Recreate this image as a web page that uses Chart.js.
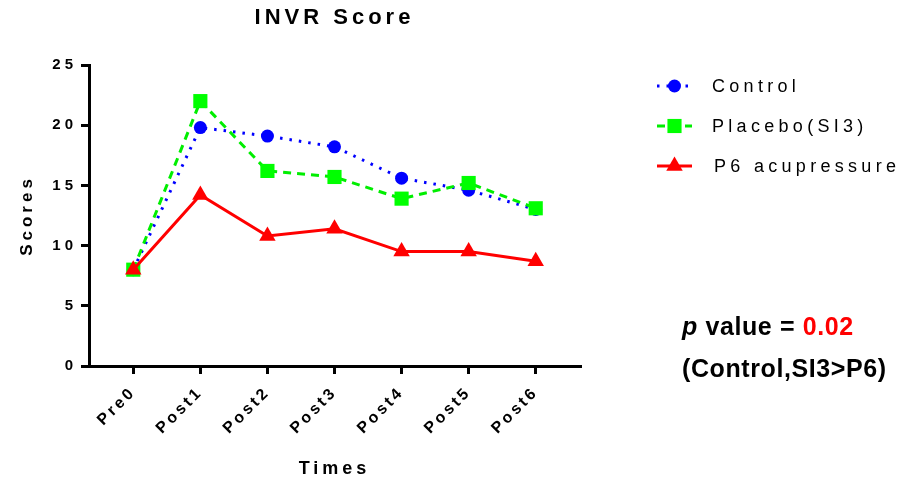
<!DOCTYPE html>
<html>
<head>
<meta charset="utf-8">
<script src="https://cdn.jsdelivr.net/npm/chart.js@4/dist/chart.umd.min.js"></script>
<style>
html,body{margin:0;padding:0;background:#fff;}
#wrap{width:905px;height:483px;}
</style>
</head>
<body>
<div id="wrap"><canvas id="c" width="905" height="483"></canvas></div>
<script>
const categories = ['Pre0', 'Post1', 'Post2', 'Post3', 'Post4', 'Post5', 'Post6'];
const controlValues = [8.0, 19.8, 19.1, 18.2, 15.6, 14.6, 13.0];
const placeboValues = [8.0, 22.0, 16.2, 15.7, 13.9, 15.2, 13.1];
const p6Values = [8.0, 14.2, 10.8, 11.4, 9.5, 9.5, 8.7];
const seriesNames = ['Control', 'Placebo(SI3)', 'P6 acupressure'];
const yTicks = [0, 5, 10, 15, 20, 25];
const titleText = 'INVR Score';
const xTitle = 'Times';
const yTitle = 'Scores';
const pLabel = 'p';
const pRest = ' value = ';
const pValue = '0.02';
const pNote = '(Control,SI3>P6)';

const FONT = "'Liberation Sans', Arial, Helvetica, sans-serif";
Chart.defaults.color = '#000';
Chart.defaults.font.family = FONT;

const toPts = arr => arr.map((v, i) => ({x: i, y: v}));

const spacingPlugin = {
  id: 'spacing',
  beforeDraw(chart) {
    const wrap = (obj, name, sp) => {
      if (!obj || obj['__w_' + name]) return;
      const orig = obj[name];
      obj[name] = function (...args) {
        const ctx = chart.ctx;
        ctx.save();
        ctx.letterSpacing = sp;
        const r = orig.apply(this, args);
        ctx.restore();
        return r;
      };
      obj['__w_' + name] = true;
    };
    wrap(chart.scales.x, 'drawLabels', '3px');
    wrap(chart.scales.x, 'drawTitle', '4px');
    wrap(chart.scales.y, 'drawLabels', '4px');
    wrap(chart.scales.y, 'drawTitle', '4px');
    wrap(chart.titleBlock, 'draw', '4px');
  }
};

function drawMarker(ctx, style, r, x, y, color) {
  ctx.save();
  ctx.fillStyle = color;
  ctx.beginPath();
  if (style === 'circle') {
    ctx.arc(x, y, r, 0, Math.PI * 2);
  } else if (style === 'rect') {
    const s = Math.SQRT1_2 * r;
    ctx.rect(x - s, y - s, 2 * s, 2 * s);
  } else if (style === 'triangle') {
    ctx.moveTo(x, y - r);
    ctx.lineTo(x + Math.cos(Math.PI / 6) * r, y + Math.sin(Math.PI / 6) * r);
    ctx.lineTo(x - Math.cos(Math.PI / 6) * r, y + Math.sin(Math.PI / 6) * r);
    ctx.closePath();
  }
  ctx.fill();
  ctx.restore();
}

const legendPlugin = {
  id: 'customLegend',
  afterDraw(chart) {
    const ctx = chart.ctx;
    const rows = [86, 126, 166];
    const textX = [712, 712, 714];
    chart.data.datasets.forEach((ds, i) => {
      const y = rows[i];
      ctx.save();
      ctx.strokeStyle = ds.borderColor;
      ctx.lineWidth = ds.borderWidth;
      ctx.setLineDash(ds.borderDash || []);
      ctx.beginPath();
      ctx.moveTo(657, y);
      ctx.lineTo(692, y);
      ctx.stroke();
      ctx.restore();
      drawMarker(ctx, ds.pointStyle, ds.pointRadius, 674.5, y, ds.pointBackgroundColor);
      ctx.save();
      ctx.font = '18px ' + FONT;
      ctx.letterSpacing = '4.3px';
      ctx.fillStyle = '#000';
      ctx.textBaseline = 'middle';
      ctx.textAlign = 'left';
      ctx.fillText(ds.label, textX[i], y + 1);
      ctx.restore();
    });

    // p value annotation
    ctx.save();
    ctx.textBaseline = 'middle';
    ctx.textAlign = 'left';
    ctx.letterSpacing = '0.6px';
    let x = 682;
    const y1 = 328;
    ctx.fillStyle = '#000';
    ctx.font = 'italic bold 25px ' + FONT;
    ctx.fillText(pLabel, x, y1);
    x += ctx.measureText(pLabel).width;
    ctx.font = 'bold 25px ' + FONT;
    ctx.fillText(pRest, x, y1);
    x += ctx.measureText(pRest).width;
    ctx.fillStyle = '#ff0000';
    ctx.fillText(pValue, x, y1);
    ctx.fillStyle = '#000';
    ctx.fillText(pNote, 682, 370);
    ctx.restore();
  }
};

new Chart(document.getElementById('c'), {
  type: 'line',
  data: {
    datasets: [
      {
        label: seriesNames[0],
        data: toPts(controlValues),
        borderColor: '#0000ff',
        backgroundColor: '#0000ff',
        pointBackgroundColor: '#0000ff',
        pointBorderColor: '#0000ff',
        borderWidth: 3,
        borderDash: [2.5, 7],
        pointStyle: 'circle',
        pointRadius: 6.5,
        pointBorderWidth: 0,
        tension: 0,
        order: 3
      },
      {
        label: seriesNames[1],
        data: toPts(placeboValues),
        borderColor: '#00ee00',
        backgroundColor: '#00ee00',
        pointBackgroundColor: '#00ff00',
        pointBorderColor: '#00ff00',
        borderWidth: 3,
        borderDash: [8, 6],
        pointStyle: 'rect',
        pointRadius: 10,
        pointBorderWidth: 0,
        tension: 0,
        order: 2
      },
      {
        label: seriesNames[2],
        data: toPts(p6Values),
        borderColor: '#ff0000',
        backgroundColor: '#ff0000',
        pointBackgroundColor: '#ff0000',
        pointBorderColor: '#ff0000',
        borderWidth: 3,
        pointStyle: 'triangle',
        pointRadius: 9.5,
        pointBorderWidth: 0,
        tension: 0,
        order: 1
      }
    ]
  },
  options: {
    responsive: false,
    animation: false,
    devicePixelRatio: 1,
    layout: {padding: {left: 0, right: 325, top: 0, bottom: 0}},
    plugins: {
      legend: {display: false},
      tooltip: {enabled: false},
      title: {
        display: true,
        text: titleText,
        fullSize: false,
        color: '#000',
        font: {size: 22, weight: 'bold', family: FONT, lineHeight: 1.2},
        padding: {top: 5, bottom: 33.6}
      }
    },
    scales: {
      x: {
        type: 'linear',
        min: -0.66,
        max: 6.66,
        offset: false,
        afterBuildTicks: s => { s.ticks = categories.map((_, i) => ({value: i})); },
        afterFit: s => { s.height = 117; },
        grid: {drawOnChartArea: false, drawTicks: true, tickLength: 8, lineWidth: 3, color: '#000'},
        border: {display: true, width: 3, color: '#000'},
        ticks: {
          autoSkip: false,
          maxRotation: 45,
          minRotation: 45,
          padding: 9,
          color: '#000',
          font: {size: 16, weight: 'bold', family: FONT},
          callback: v => categories[v]
        },
        title: {
          display: true,
          text: xTitle,
          color: '#000',
          font: {size: 18, weight: 'bold', family: FONT},
          padding: {top: 0, bottom: 3}
        }
      },
      y: {
        min: 0,
        max: 25,
        afterBuildTicks: s => { s.ticks = yTicks.map(v => ({value: v})); },
        afterFit: s => { s.width = 89; },
        grid: {drawOnChartArea: false, drawTicks: true, tickLength: 8, lineWidth: 3, color: '#000'},
        border: {display: true, width: 3, color: '#000'},
        ticks: {
          padding: 4,
          color: '#000',
          font: {size: 15, weight: 'bold', family: FONT}
        },
        title: {
          display: true,
          text: yTitle,
          color: '#000',
          font: {size: 17, weight: 'bold', family: FONT},
          padding: {top: 17, bottom: 0}
        }
      }
    }
  },
  plugins: [spacingPlugin, legendPlugin]
});
</script>
</body>
</html>
